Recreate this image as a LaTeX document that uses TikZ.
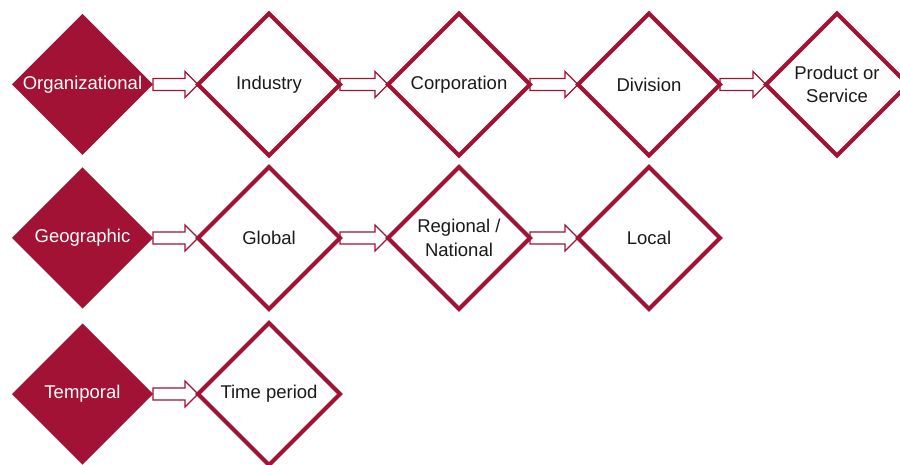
\documentclass[tikz,border=0pt]{standalone}
\usepackage{fontspec}
\setmainfont{Liberation Sans}
\usetikzlibrary{shapes.geometric,calc}
\definecolor{maroon}{HTML}{A11235}
\definecolor{txt}{HTML}{1A1A1A}
\pgfdeclarelayer{bg}
\pgfsetlayers{bg,main}
\newcommand\blockarr[2]{%
  \begin{pgfonlayer}{bg}
  \draw[arrowsty] let \p1=(#1.east), \p2=(#2.west) in
    (\x1,\y1-6pt) -- (\x2-13pt,\y1-6pt) -- (\x2-13pt,\y1-13pt) -- (\x2,\y1)
    -- (\x2-13pt,\y1+13pt) -- (\x2-13pt,\y1+6pt) -- (\x1,\y1+6pt) -- cycle;
  \end{pgfonlayer}}
\begin{document}
\begin{tikzpicture}[x=1pt,y=-1pt,
  dbase/.style={diamond, minimum width=142pt, minimum height=142pt, inner sep=0pt, outer sep=0pt,
    font=\fontsize{18.5}{23.5}\selectfont, align=center},
  dimfill/.style={dbase, fill=maroon, text=white, minimum width=141pt, minimum height=141pt},
  dimout/.style={dbase, draw=maroon, line width=4pt, fill=white, text=txt},
  arrowsty/.style={draw=maroon, line width=1.1pt, fill=white, line join=miter}]
\useasboundingbox (0,0) rectangle (900,465);
\clip (0,0) rectangle (900,465);
% row 1
\node[dimfill] (org) at (82.5,84.5) {Organizational};
\node[dimout] (ind) at (269,84.5) {Industry};
\node[dimout] (corp) at (459,84.5) {Corporation};
\node[dimout] (div) at (649,84.5) {Division};
\node[dimout] (prod) at (837,84.5) {Product or\\Service};
% row 2
\node[dimfill] (geo) at (82.5,238) {Geographic};
\node[dimout] (glob) at (269,238) {Global};
\node[dimout] (reg) at (459,238) {Regional /\\National};
\node[dimout] (loc) at (649,238) {Local};
% row 3
\node[dimfill] (temp) at (82.5,394) {Temporal};
\node[dimout] (time) at (269,394) {Time period};
% arrows
\blockarr{org}{ind}
\blockarr{ind}{corp}
\blockarr{corp}{div}
\blockarr{div}{prod}
\blockarr{geo}{glob}
\blockarr{glob}{reg}
\blockarr{reg}{loc}
\blockarr{temp}{time}
\end{tikzpicture}
\end{document}
